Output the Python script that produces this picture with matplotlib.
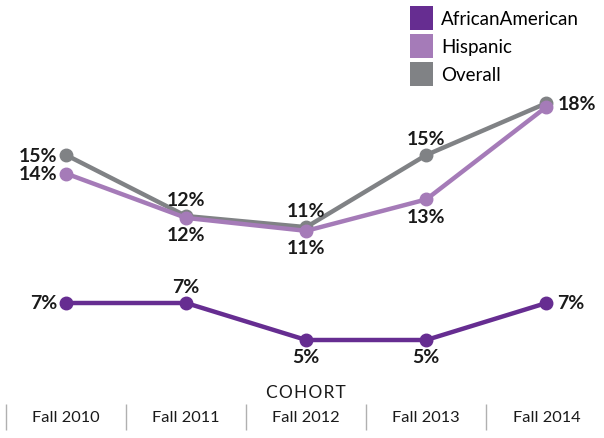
import matplotlib.pyplot as plt
from matplotlib.patches import Patch

# data
COHORTS = ["Fall 2010", "Fall 2011", "Fall 2012", "Fall 2013", "Fall 2014"]
OVERALL = [15.0, 11.7, 11.1, 15.0, 17.8]
HISPANIC = [14.0, 11.6, 10.9, 12.6, 17.6]
AFRICAN_AMERICAN = [7.0, 7.0, 5.0, 5.0, 7.0]

# where each value label sits: l=left, r=right, a=above, b=below, None=no label
POS_OVERALL = ["l", "a", "a", "a", "r"]
POS_HISPANIC = ["l", "b", "b", "b", None]
POS_AA = ["l", "a", "b", "b", "r"]

C_AA = "#662d91"
C_HISP = "#a57bb8"
C_OVER = "#808285"

plt.rcParams["font.family"] = ["Lato", "DejaVu Sans"]

W, H = 604, 439
fig = plt.figure(figsize=(W / 100, H / 100), dpi=100)
ax_bottom = 405
ax = fig.add_axes([0, 1 - ax_bottom / H, 1, ax_bottom / H])

x = list(range(len(COHORTS)))
series = [
    (OVERALL, C_OVER, POS_OVERALL),
    (HISPANIC, C_HISP, POS_HISPANIC),
    (AFRICAN_AMERICAN, C_AA, POS_AA),
]
offsets = {"l": (-6, 0, "right", "center"), "r": (8, 0, "left", "center"),
           "a": (0, 6, "center", "bottom"), "b": (0, -6, "center", "top")}

for vals, col, pos in series:
    ax.plot(x, vals, color=col, lw=3.2, marker="o", ms=9, solid_capstyle="round")
    for xi, v, p in zip(x, vals, pos):
        if p is None:
            continue
        dx, dy, ha, va = offsets[p]
        ax.annotate(f"{v:.0f}%", (xi, v), xytext=(dx, dy), textcoords="offset points",
                    ha=ha, va=va, fontsize=14, fontweight="bold", color="#1a1a1a")

ax.set_xlim(-0.55, 4.48)
ax.set_ylim(7 - (ax_bottom - 304) / 18.5, 7 + 304 / 18.5)

for s in ax.spines.values():
    s.set_visible(False)
ax.set_yticks([])
ax.set_xticks(x)
ax.set_xticklabels(COHORTS, fontsize=11.8, color="#1a1a1a")
ax.tick_params(axis="x", which="major", length=0, pad=4)
ax.set_xticks([-0.5, 0.5, 1.5, 2.5, 3.5], minor=True)
ax.tick_params(axis="x", which="minor", length=19, width=1, color="#b0b0b0", direction="out")

ax.text(2, (ax_bottom - 393) / ax_bottom, "\u200a".join("COHORT"),
        transform=ax.get_xaxis_transform(), ha="center", va="center",
        fontsize=12.5, color="#1a1a1a")

handles = [Patch(facecolor=C_AA), Patch(facecolor=C_HISP), Patch(facecolor=C_OVER)]
fig.legend(handles, ["AfricanAmerican", "Hispanic", "Overall"],
           loc="upper left", bbox_to_anchor=(410 / W, 1 - 7 / H),
           frameon=False, borderpad=0, borderaxespad=0, fontsize=13.5,
           handlelength=1.25, handleheight=1.6, handletextpad=0.4, labelspacing=0.2)

fig.savefig("out.png", dpi=100)
